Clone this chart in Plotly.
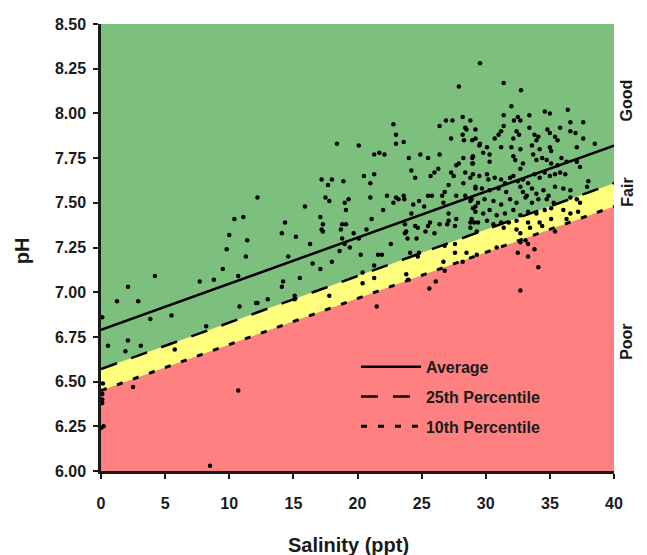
import plotly.graph_objects as go

# Regression / percentile lines (pH at salinity 0 and 40)
line_x = [0, 40]
avg_ph = [6.79, 7.82]
p25_ph = [6.57, 7.61]
p10_ph = [6.45, 7.48]

x_ticks = [0, 5, 10, 15, 20, 25, 30, 35, 40]
y_ticks = [6.00, 6.25, 6.50, 6.75, 7.00, 7.25, 7.50, 7.75, 8.00, 8.25, 8.50]

salinity = [
    12.2, 10.4, 11.1, 10.0, 11.4, 9.8, 11.3, 9.5, 10.7, 7.7, 8.8, 4.2, 2.1, 1.25, 2.9,
    3.85, 5.5, 0.1, 10.8, 12.1, 8.2, 0.55, 2.1, 1.9, 3.1, 5.75, 0.15, 2.5, 0.1, 0.1,
    0.1, 0.2, 10.7, 8.5, 0.0, 0.05,
    18.4, 20.1, 21.7, 21.3, 17.2, 18.0, 17.7, 18.9, 20.5, 21.3, 21.0, 21.0, 17.5, 17.8,
    19.3, 19.0, 19.1, 15.9, 14.35, 14.1, 17.1, 17.3, 17.2, 17.3, 15.2, 18.8, 19.1, 18.7,
    18.8, 19.7, 20.7, 21.1, 16.3, 19.0, 20.1, 19.4, 18.6, 20.25, 21.6, 14.6, 16.5, 17.1,
    18.0, 21.3, 15.5, 14.2, 14.1, 20.4, 21.3, 20.4, 12.2, 13.0, 15.1, 15.1, 17.8, 21.5,
    29.55, 27.9, 22.8, 26.4, 26.9, 27.4, 28.2, 28.8, 28.4, 28.5, 29.2, 23.0, 23.0, 23.6,
    27.3, 28.2, 28.3, 28.95, 29.2, 29.5, 22.1, 24.0, 24.9, 25.5, 26.4, 28.25, 28.95, 28.95,
    24.2, 24.5, 25.7, 26.0, 26.3, 27.3, 27.5, 27.7, 27.9, 28.4, 28.25, 28.8, 27.1, 29.2,
    22.3, 22.8, 23.0, 23.2, 23.6, 23.65, 22.0, 24.35, 24.8, 25.2, 25.5, 25.8, 26.6, 26.8,
    26.7, 27.7, 28.4, 28.8, 29.0, 29.2, 24.2, 23.7, 23.8, 23.7, 24.5, 24.7, 24.6, 23.9,
    25.65, 25.5, 25.3, 26.0, 26.4, 27.1, 27.1, 27.0, 27.7, 27.6, 28.9, 29.1, 28.8, 22.6,
    21.9, 24.1, 24.7, 24.8, 26.8, 27.6, 27.6, 28.5, 23.8, 23.95, 26.7, 26.8, 28.2, 26.1,
    25.6,
    31.4, 32.75, 32.0, 34.6, 35.0, 36.4, 31.4, 32.5, 33.4, 32.2, 32.7, 36.6, 37.6, 31.4,
    33.4, 34.8, 35.8, 31.0, 30.7, 31.2, 32.4, 32.6, 32.15, 33.8, 34.1, 33.95, 35.0, 35.4,
    35.6, 36.6, 37.0, 37.6, 38.5, 29.55, 30.1, 29.8, 31.2, 32.0, 32.7, 33.6, 34.2, 35.0,
    35.1, 37.1, 29.0, 29.0, 30.3, 30.3, 32.15, 32.3, 32.9, 32.7, 33.7, 33.95, 34.4, 34.75,
    35.1, 35.6, 35.9, 36.3, 37.1, 37.35, 29.0, 29.5, 30.1, 30.2, 30.7, 31.2, 31.5, 31.9,
    32.15, 32.5, 32.9, 33.3, 33.8, 34.2, 34.6, 35.0, 35.4, 35.8, 36.2, 38.0, 37.9, 29.2,
    29.7, 30.3, 31.0, 31.6, 32.7, 32.9, 33.2, 33.6, 33.95, 34.5, 34.9, 35.4, 36.05, 36.6,
    28.9, 29.4, 29.9, 30.6, 31.2, 31.9, 32.4, 33.1, 33.6, 34.1, 34.75, 35.3, 36.6, 37.1,
    37.35, 29.2, 29.8, 30.3, 30.85, 31.5, 32.15, 32.7, 33.3, 33.95, 34.6, 35.1, 36.05, 36.6,
    37.2, 28.8, 29.4, 30.1, 30.6, 31.2, 31.8, 32.4, 33.3, 34.2, 35.1, 36.3, 29.3, 31.4,
    32.4, 32.7, 33.45, 34.4, 35.4, 32.7, 33.1, 33.3, 33.8, 32.5, 33.3, 34.1, 32.7, 30.85,
    29.3,
]
ph = [
    7.53, 7.41, 7.42, 7.32, 7.29, 7.24, 7.20, 7.13, 7.09, 7.06, 7.07, 7.09, 7.03, 6.95, 6.95,
    6.85, 6.87, 6.86, 6.92, 6.94, 6.81, 6.70, 6.73, 6.67, 6.70, 6.68, 6.49, 6.47, 6.43, 6.40,
    6.38, 6.25, 6.45, 6.03, 6.24, 6.39,
    7.83, 7.82, 7.78, 7.77, 7.63, 7.63, 7.60, 7.62, 7.65, 7.66, 7.61, 7.53, 7.53, 7.51,
    7.52, 7.50, 7.46, 7.48, 7.39, 7.33, 7.42, 7.38, 7.35, 7.34, 7.31, 7.38, 7.38, 7.35,
    7.30, 7.33, 7.35, 7.41, 7.27, 7.27, 7.30, 7.25, 7.23, 7.21, 7.21, 7.20, 7.16, 7.13,
    7.17, 7.15, 7.08, 7.06, 7.03, 7.11, 7.08, 7.05, 6.94, 6.96, 6.98, 6.96, 6.98, 6.92,
    8.28, 8.15, 7.94, 7.93, 7.96, 7.96, 7.98, 7.96, 7.92, 7.91, 7.91, 7.88, 7.83, 7.84,
    7.86, 7.88, 7.85, 7.85, 7.86, 7.82, 7.77, 7.75, 7.77, 7.75, 7.77, 7.75, 7.75, 7.72,
    7.68, 7.64, 7.65, 7.67, 7.69, 7.67, 7.65, 7.71, 7.72, 7.67, 7.61, 7.64, 7.60, 7.58,
    7.54, 7.50, 7.53, 7.52, 7.54, 7.52, 7.46, 7.49, 7.51, 7.48, 7.54, 7.54, 7.54, 7.56,
    7.50, 7.54, 7.54, 7.51, 7.47, 7.48, 7.44, 7.38, 7.34, 7.33, 7.37, 7.36, 7.30, 7.30,
    7.39, 7.37, 7.34, 7.33, 7.38, 7.44, 7.40, 7.38, 7.41, 7.37, 7.41, 7.39, 7.36, 7.27,
    7.21, 7.22, 7.20, 7.22, 7.26, 7.27, 7.22, 7.22, 7.10, 7.07, 7.17, 7.12, 7.17, 7.06,
    7.02,
    8.17, 8.13, 8.04, 8.01, 8.00, 8.02, 7.99, 7.98, 7.99, 7.96, 7.96, 7.95, 7.95, 7.93,
    7.92, 7.91, 7.92, 7.88, 7.86, 7.90, 7.90, 7.88, 7.86, 7.88, 7.87, 7.85, 7.89, 7.87,
    7.85, 7.90, 7.89, 7.86, 7.83, 7.83, 7.81, 7.78, 7.81, 7.81, 7.80, 7.82, 7.80, 7.81,
    7.79, 7.81, 7.76, 7.72, 7.77, 7.73, 7.76, 7.74, 7.72, 7.69, 7.77, 7.74, 7.75, 7.74,
    7.72, 7.71, 7.75, 7.73, 7.73, 7.70, 7.66, 7.65, 7.66, 7.63, 7.64, 7.63, 7.61, 7.64,
    7.65, 7.62, 7.63, 7.61, 7.66, 7.64, 7.67, 7.65, 7.66, 7.67, 7.66, 7.62, 7.59, 7.59,
    7.58, 7.57, 7.58, 7.56, 7.59, 7.56, 7.54, 7.58, 7.55, 7.57, 7.54, 7.59, 7.58, 7.57,
    7.52, 7.50, 7.52, 7.51, 7.49, 7.52, 7.50, 7.53, 7.50, 7.52, 7.52, 7.50, 7.53, 7.52,
    7.50, 7.45, 7.44, 7.46, 7.43, 7.44, 7.46, 7.43, 7.45, 7.44, 7.46, 7.47, 7.46, 7.44,
    7.45, 7.39, 7.39, 7.40, 7.38, 7.39, 7.39, 7.40, 7.39, 7.39, 7.41, 7.41, 7.34, 7.36,
    7.35, 7.33, 7.36, 7.37, 7.34, 7.28, 7.29, 7.27, 7.24, 7.22, 7.20, 7.14, 7.01, 7.25,
    7.21,
]

GREEN = "rgb(125,191,125)"
YELLOW = "rgb(255,255,125)"
RED = "rgb(255,128,128)"
FONT = "Liberation Sans, Arial, sans-serif"
INK = "#1a1a1a"

fig = go.Figure()
# Zone fills
fig.add_trace(go.Scatter(x=line_x, y=p10_ph, mode="lines", line=dict(width=0, color=RED),
                         fill="tozeroy", fillcolor=RED, showlegend=False, hoverinfo="skip"))
fig.add_trace(go.Scatter(x=line_x, y=p25_ph, mode="lines", line=dict(width=0, color=YELLOW),
                         fill="tonexty", fillcolor=YELLOW, showlegend=False, hoverinfo="skip"))

# Points
fig.add_trace(go.Scatter(x=salinity, y=ph, mode="markers",
                         marker=dict(color="black", size=4.5), showlegend=False))

# Lines
fig.add_trace(go.Scatter(x=line_x, y=avg_ph, mode="lines", name="Average", legendgroup="a",
                         line=dict(color="black", width=2.5)))
fig.add_trace(go.Scatter(x=line_x, y=p25_ph, mode="lines", name="25th Percentile", legendgroup="b",
                         line=dict(color="black", width=2.5, dash="17px,15px")))
fig.add_trace(go.Scatter(x=line_x, y=p10_ph, mode="lines", name="10th Percentile", legendgroup="c",
                         line=dict(color="black", width=3, dash="6px,11px")))

zones = [("Good", 8.07), ("Fair", 7.56), ("Poor", 6.72)]
for label, yv in zones:
    fig.add_annotation(text=label, x=1.045, xref="paper", y=yv, yref="y",
                       textangle=-90, showarrow=False,
                       font=dict(family=FONT, size=16, color=INK, weight="bold"))

# Axis titles
fig.add_annotation(text="Salinity (ppt)", x=0.483, xref="paper", y=-0.1655, yref="paper",
                   xanchor="center", yanchor="middle", showarrow=False,
                   font=dict(family=FONT, size=20, color=INK, weight="bold"))
fig.add_annotation(text="pH", x=-0.154, xref="paper", y=0.494, yref="paper",
                   xanchor="center", yanchor="middle", textangle=-90, showarrow=False,
                   font=dict(family=FONT, size=20, color=INK, weight="bold"))

fig.update_layout(
    width=639, height=547,
    margin=dict(l=93, r=33, t=16, b=84),
    paper_bgcolor="white", plot_bgcolor=GREEN,
    font=dict(family=FONT, color=INK),
    legend=dict(x=0.497, y=0.271, xanchor="left", yanchor="top", bgcolor="rgba(0,0,0,0)",
                traceorder="grouped", itemwidth=60,
                font=dict(family=FONT, size=16, color=INK, weight="bold"), tracegroupgap=6),
    showlegend=True,
)
fig.update_xaxes(range=[0, 40], tickvals=x_ticks, showgrid=False, zeroline=False, automargin=False,
                 showline=True, linecolor=INK, linewidth=2.5, ticks="outside",
                 ticklen=5, tickwidth=2, tickcolor=INK, ticklabelstandoff=11,
                 tickfont=dict(family=FONT, size=16, color=INK, weight="bold"))
fig.update_yaxes(range=[6, 8.5], tickvals=y_ticks, tickformat=".2f", showgrid=False, zeroline=False,
                 automargin=False,
                 showline=True, linecolor=INK, linewidth=2.5, ticks="outside",
                 ticklen=5, tickwidth=2, tickcolor=INK, ticklabelstandoff=4,
                 tickfont=dict(family=FONT, size=16, color=INK, weight="bold"))

fig.write_html("out.html")
